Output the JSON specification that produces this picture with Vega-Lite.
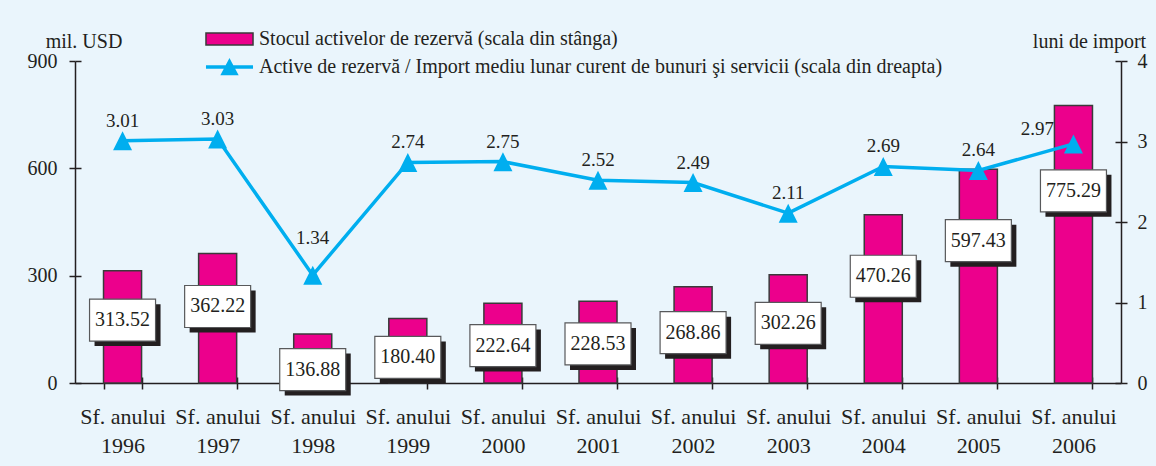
{
  "$schema": "https://vega.github.io/schema/vega-lite/v6.json",
  "width": 1046,
  "height": 322,
  "autosize": {"type": "none"},
  "padding": {"left": 75, "top": 61, "right": 35, "bottom": 83},
  "background": "#EAF5FC",
  "config": {
    "view": {"stroke": null},
    "font": "Liberation Serif",
    "axis": {
      "domainColor": "#231F20", "domainWidth": 1.5,
      "tickColor": "#231F20", "tickWidth": 1.5,
      "labelColor": "#231F20", "labelFont": "Liberation Serif", "labelFontSize": 20,
      "titleFont": "Liberation Serif", "titleFontSize": 20, "titleFontWeight": "normal", "titleColor": "#231F20",
      "grid": false
    }
  },
  "datasets": {
    "main": [
      {"year": "1996", "stock": 313.52, "ratio": 3.01},
      {"year": "1997", "stock": 362.22, "ratio": 3.03},
      {"year": "1998", "stock": 136.88, "ratio": 1.34},
      {"year": "1999", "stock": 180.40, "ratio": 2.74},
      {"year": "2000", "stock": 222.64, "ratio": 2.75},
      {"year": "2001", "stock": 228.53, "ratio": 2.52},
      {"year": "2002", "stock": 268.86, "ratio": 2.49},
      {"year": "2003", "stock": 302.26, "ratio": 2.11},
      {"year": "2004", "stock": 470.26, "ratio": 2.69},
      {"year": "2005", "stock": 597.43, "ratio": 2.64},
      {"year": "2006", "stock": 775.29, "ratio": 2.97}
    ]
  },
  "data": {"name": "main"},
  "resolve": {"scale": {"y": "independent"}, "axis": {"x": "independent", "y": "independent"}},
  "layer": [
    {
      "mark": {"type": "bar", "fill": "#EC008C", "stroke": "#3A3A3A", "strokeWidth": 1.5},
      "encoding": {
        "x": {
          "field": "year", "type": "nominal", "sort": null,
          "scale": {"domain": ["1996","1997","1998","1999","2000","2001","2002","2003","2004","2005","2006"], "paddingInner": 0.6, "paddingOuter": 0.3},
          "axis": {"orient": "bottom", "title": null, "labelAngle": 0, "tickBand": "extent", "tickSize": 6, "labelPadding": 17, "labelExpr": "datum.label ? ['Sf. anului', datum.label] : ''", "labelLineHeight": 29, "labelFontSize": 22, "labelBaseline": "top"}
        },
        "y": {
          "field": "stock", "type": "quantitative",
          "scale": {"domain": [0, 900], "nice": false},
          "axis": {"orient": "left", "values": [0, 300, 600, 900], "tickSize": 6, "labelPadding": 12, "title": "mil. USD", "titleAngle": 0, "titleAlign": "center", "titleBaseline": "alphabetic", "titleX": 8.5, "titleY": -14}
        }
      }
    },
    {
      "mark": {"type": "point", "opacity": 0},
      "encoding": {
        "x": {"field": "year", "type": "nominal", "sort": null,
              "axis": {"orient": "bottom", "title": null, "labels": false, "domain": false, "tickBand": "extent", "tickSize": -6}},
        "y": {"field": "stock", "type": "quantitative", "scale": {"domain": [0, 900], "nice": false},
              "axis": {"orient": "left", "values": [0, 300, 600, 900], "labels": false, "domain": false, "tickSize": -6, "title": null}}
      }
    },
    {
      "mark": {"type": "point", "opacity": 0},
      "encoding": {
        "x": {"field": "year", "type": "nominal", "sort": null, "axis": null},
        "y": {"field": "ratio", "type": "quantitative", "scale": {"domain": [0, 4], "nice": false},
              "axis": {"orient": "right", "values": [0, 1, 2, 3, 4], "labels": false, "domain": false, "tickSize": -6, "title": null}}
      }
    },
    {
      "mark": {"type": "point", "shape": "M-1,-0.636H1V0.636H-1Z", "size": 4356, "filled": true, "fill": "#231F20", "opacity": 1, "xOffset": 5, "yOffset": 5},
      "encoding": {
        "x": {"field": "year", "type": "nominal", "sort": null, "axis": null},
        "y": {"field": "stock", "type": "quantitative", "scale": {"domain": [89, 1239], "nice": false, "zero": false}, "axis": null}
      }
    },
    {
      "mark": {"type": "point", "shape": "M-1,-0.636H1V0.636H-1Z", "size": 4356, "filled": true, "fill": "white", "stroke": "#58595B", "strokeWidth": 1.2, "opacity": 1},
      "encoding": {
        "x": {"field": "year", "type": "nominal", "sort": null, "axis": null},
        "y": {"field": "stock", "type": "quantitative", "scale": {"domain": [89, 1239], "nice": false, "zero": false}, "axis": null}
      }
    },
    {
      "mark": {"type": "text", "font": "Liberation Serif", "fontSize": 20, "color": "#231F20", "baseline": "middle"},
      "encoding": {
        "x": {"field": "year", "type": "nominal", "sort": null, "axis": null},
        "y": {"field": "stock", "type": "quantitative", "scale": {"domain": [89, 1239], "nice": false, "zero": false}, "axis": null},
        "text": {"field": "stock", "type": "quantitative", "format": ".2f"}
      }
    },
    {
      "mark": {"type": "line", "color": "#00AEEF", "strokeWidth": 3.5},
      "encoding": {
        "x": {"field": "year", "type": "nominal", "sort": null, "axis": null},
        "y": {"field": "ratio", "type": "quantitative", "scale": {"domain": [0, 4], "nice": false},
              "axis": {"orient": "right", "values": [0, 1, 2, 3, 4], "tickSize": 6, "labelPadding": 10, "title": "luni de import", "titleAngle": 0, "titleAlign": "center", "titleBaseline": "alphabetic", "titleX": -32, "titleY": -14}}
      }
    },
    {
      "mark": {"type": "point", "shape": "M0,-1L1,1L-1,1Z", "size": 361, "filled": true, "fill": "#00AEEF", "opacity": 1},
      "encoding": {
        "x": {"field": "year", "type": "nominal", "sort": null, "axis": null},
        "y": {"field": "ratio", "type": "quantitative", "scale": {"domain": [0, 4], "nice": false}, "axis": null}
      }
    },
    {
      "transform": [{"filter": "datum.year != '1998' && datum.year != '2006'"}],
      "mark": {"type": "text", "font": "Liberation Serif", "fontSize": 19, "color": "#231F20", "baseline": "middle", "dy": -20},
      "encoding": {
        "x": {"field": "year", "type": "nominal", "sort": null, "axis": null},
        "y": {"field": "ratio", "type": "quantitative", "scale": {"domain": [0, 4], "nice": false}, "axis": null},
        "text": {"field": "ratio", "type": "quantitative", "format": ".2f"}
      }
    },
    {
      "transform": [{"filter": "datum.year == '1998'"}],
      "mark": {"type": "text", "font": "Liberation Serif", "fontSize": 19, "color": "#231F20", "baseline": "middle", "dy": -37},
      "encoding": {
        "x": {"field": "year", "type": "nominal", "sort": null, "axis": null},
        "y": {"field": "ratio", "type": "quantitative", "scale": {"domain": [0, 4], "nice": false}, "axis": null},
        "text": {"field": "ratio", "type": "quantitative", "format": ".2f"}
      }
    },
    {
      "transform": [{"filter": "datum.year == '2006'"}],
      "mark": {"type": "text", "font": "Liberation Serif", "fontSize": 19, "color": "#231F20", "baseline": "middle", "dx": -36, "dy": -15},
      "encoding": {
        "x": {"field": "year", "type": "nominal", "sort": null, "axis": null},
        "y": {"field": "ratio", "type": "quantitative", "scale": {"domain": [0, 4], "nice": false}, "axis": null},
        "text": {"field": "ratio", "type": "quantitative", "format": ".2f"}
      }
    },
    {
      "data": {"values": [
        {"s": "Stocul activelor de rezervă (scala din stânga)"},
        {"s": "Active de rezervă / Import mediu lunar curent de bunuri şi servicii (scala din dreapta)"}
      ]},
      "mark": {"type": "point", "filled": true, "opacity": 0},
      "encoding": {
        "fill": {"field": "s", "type": "nominal",
          "scale": {"domain": ["Stocul activelor de rezervă (scala din stânga)", "Active de rezervă / Import mediu lunar curent de bunuri şi servicii (scala din dreapta)"], "range": ["#EC008C", "#00AEEF"]},
          "legend": {"title": null, "orient": "none", "direction": "vertical", "legendX": 144.5, "legendY": -32, "padding": 0, "labelOffset": 19.5, "labelFont": "Liberation Serif", "labelFontSize": 20, "labelColor": "#231F20", "labelLimit": 1000, "symbolSize": 256, "symbolOpacity": 1, "rowPadding": 5}},
        "stroke": {"field": "s", "type": "nominal",
          "scale": {"domain": ["Stocul activelor de rezervă (scala din stânga)", "Active de rezervă / Import mediu lunar curent de bunuri şi servicii (scala din dreapta)"], "range": ["#3A3A3A", "#00AEEF"]},
          "legend": {"title": null, "orient": "none", "direction": "vertical", "legendX": 144.5, "legendY": -32, "padding": 0, "labelOffset": 19.5, "labelFont": "Liberation Serif", "labelFontSize": 20, "labelColor": "#231F20", "labelLimit": 1000, "symbolSize": 256, "symbolOpacity": 1, "rowPadding": 5}},
        "shape": {"field": "s", "type": "nominal",
          "scale": {"domain": ["Stocul activelor de rezervă (scala din stânga)", "Active de rezervă / Import mediu lunar curent de bunuri şi servicii (scala din dreapta)"], "range": ["M-2.94,-0.75H2.94V0.75H-2.94Z", "M-2.94,0H2.94M0,-0.65L0.78,0.8L-0.78,0.8Z"]},
          "legend": {"title": null, "orient": "none", "direction": "vertical", "legendX": 144.5, "legendY": -32, "padding": 0, "labelOffset": 19.5, "labelFont": "Liberation Serif", "labelFontSize": 20, "labelColor": "#231F20", "labelLimit": 1000, "symbolSize": 256, "symbolOpacity": 1, "rowPadding": 5}},
        "strokeWidth": {"field": "s", "type": "nominal",
          "scale": {"domain": ["Stocul activelor de rezervă (scala din stânga)", "Active de rezervă / Import mediu lunar curent de bunuri şi servicii (scala din dreapta)"], "range": [1.5, 3.5]},
          "legend": {"title": null, "orient": "none", "direction": "vertical", "legendX": 144.5, "legendY": -32, "padding": 0, "labelOffset": 19.5, "labelFont": "Liberation Serif", "labelFontSize": 20, "labelColor": "#231F20", "labelLimit": 1000, "symbolSize": 256, "symbolOpacity": 1, "rowPadding": 5}}
      }
    }
  ]
}
